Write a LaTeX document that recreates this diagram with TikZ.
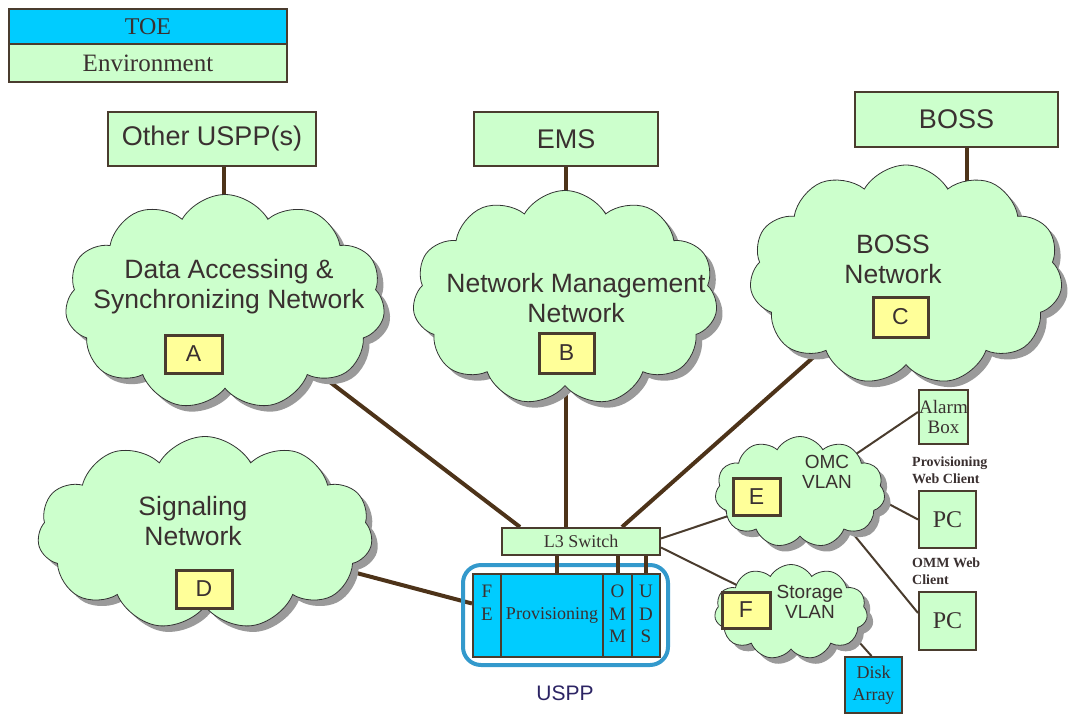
\documentclass[tikz,border=0pt]{standalone}
\usepackage{fontspec}
\setmainfont{Liberation Serif}
\newfontfamily\sansf{Liberation Sans}
\usetikzlibrary{shapes.symbols,shadows,calc}
\pgfdeclarelayer{background}
\pgfsetlayers{background,main}
\definecolor{grn}{HTML}{CCFFCC}
\definecolor{cyn}{HTML}{00CCFF}
\definecolor{yel}{HTML}{FFFF99}
\definecolor{brn}{HTML}{4D3319}
\definecolor{edg}{HTML}{4A3C2E}
\definecolor{txt}{HTML}{3A3030}
\definecolor{usppblue}{HTML}{3399CC}
\definecolor{shd}{HTML}{9A9A9A}
\tikzset{
 box/.style={draw=edg, line width=2pt, fill=grn, inner sep=0pt, text=txt, align=center},
 cbox/.style={box, fill=cyn},
 letter/.style={draw=edg, line width=3pt, fill=yel, inner sep=0pt, text=txt, font=\sansf\fontsize{23}{24}\selectfont},
 netcloud/.style={cloud, cloud puffs=11, cloud puff arc=120, cloud ignores aspect, draw=black!80, line width=0.8pt, fill=grn, inner sep=0pt, drop shadow={shadow xshift=6pt, shadow yshift=-6pt, fill=shd, opacity=1}},
 ctext/.style={text=txt, align=center, font=\sansf\fontsize{26.5}{30}\selectfont},
 stext/.style={text=txt, align=center, font=\sansf\fontsize{19}{20}\selectfont},
 trunk/.style={draw=brn, line width=4pt},
 branch/.style={draw=edg, line width=2pt},
 serif18/.style={font=\fontsize{18}{22}\selectfont},
}
\begin{document}
\begin{tikzpicture}[x=1pt,y=-1pt]
\useasboundingbox (0,0) rectangle (1074,713);
% legend
\node[cbox, minimum width=278pt, minimum height=35pt, font=\fontsize{24}{26}\selectfont] (toe) at (148,26.5) {TOE};
\node[box, minimum width=278pt, minimum height=38pt, font=\fontsize{25}{26}\selectfont] (env) at (148,63) {Environment};
% top boxes
\node[box, minimum width=208pt, minimum height=54pt, font=\sansf\fontsize{27}{28}\selectfont] (oth) at (212,139) {Other USPP(s)};
\node[box, minimum width=184pt, minimum height=54pt, font=\sansf\fontsize{27}{28}\selectfont] (ems) at (566,139) {EMS};
\node[box, minimum width=203pt, minimum height=55pt, font=\sansf\fontsize{27}{28}\selectfont] (boss) at (956.5,119.5) {BOSS};
% clouds
\node[netcloud, minimum width=320pt, minimum height=215pt] (cA) at (225,302) {};
\node[netcloud, minimum width=305pt, minimum height=215pt] (cB) at (565,298) {};
\node[netcloud, minimum width=313pt, minimum height=220pt] (cC) at (906,275) {};
\node[netcloud, minimum width=335pt, minimum height=193pt] (cD) at (205,533) {};
\node[netcloud, minimum width=170pt, minimum height=111pt] (cE) at (800,492) {};
\node[netcloud, minimum width=153pt, minimum height=95pt] (cF) at (791,612) {};
% cloud texts
\node[ctext] (tA) at (229,287) {Data Accessing \&\\Synchronizing Network};
\node[letter, minimum width=57pt, minimum height=38pt] (bA) at (193.5,354) {A};
\node[ctext] (tB) at (576,298) {Network Management\\Network};
\node[letter, minimum width=55pt, minimum height=40pt] (bB) at (566.5,353) {B};
\node[ctext] (tC) at (893,259) {BOSS\\Network};
\node[letter, minimum width=55pt, minimum height=40pt] (bC) at (900.5,317) {C};
\node[ctext] (tD) at (193,521) {Signaling\\Network};
\node[letter, minimum width=56pt, minimum height=38pt] (bD) at (204,589) {D};
\node[stext] (tE) at (827,472) {OMC\\VLAN};
\node[letter, minimum width=47pt, minimum height=37pt] (bE) at (756.5,496.5) {E};
\node[stext] (tF) at (810,602) {Storage\\VLAN};
\node[letter, minimum width=48pt, minimum height=36pt] (bF) at (746,610) {F};
% USPP
\node[draw=usppblue, line width=4pt, rounded corners=18pt, minimum width=205pt, minimum height=100pt, inner sep=0pt] (uspp) at (565.5,615) {};
\node[cbox, minimum width=28pt, minimum height=83pt] (fe) at (487,615.5) {};
\node[cbox, minimum width=102pt, minimum height=83pt, serif18] (prov) at (552,615.5) {Provisioning};
\node[cbox, minimum width=29pt, minimum height=83pt] (omm) at (617.5,615.5) {};
\node[cbox, minimum width=28pt, minimum height=83pt] (uds) at (646,615.5) {};
\node[text=txt, font=\fontsize{19}{22.5}\selectfont, align=center, anchor=north, inner sep=0pt] (feL) at (487,585) {F\\E};
\node[text=txt, font=\fontsize{19}{22.5}\selectfont, align=center, anchor=north, inner sep=0pt] (ommL) at (617.5,585) {O\\M\\M};
\node[text=txt, font=\fontsize{19}{22.5}\selectfont, align=center, anchor=north, inner sep=0pt] (udsL) at (646,585) {U\\D\\S};
\node[text=txt!75!blue, font=\sansf\fontsize{21}{24}\selectfont] (usppL) at (565,693) {USPP};
\node[box, minimum width=158pt, minimum height=27pt, serif18] (l3) at (581,541.5) {L3 Switch};
% right side devices
\node[box, minimum width=49pt, minimum height=54pt, font=\fontsize{19}{22}\selectfont] (alarm) at (943.5,417) {Alarm\\[-2pt]Box};
\node[box, minimum width=57pt, minimum height=57pt, font=\fontsize{24}{26}\selectfont] (pc1) at (947.5,519.5) {PC};
\node[box, minimum width=57pt, minimum height=58pt, font=\fontsize{24}{26}\selectfont] (pc2) at (947.5,621) {PC};
\node[cbox, minimum width=57pt, minimum height=56pt, font=\fontsize{18}{22}\selectfont] (disk) at (873.5,685) {Disk\\Array};
\node[text=txt, align=left, anchor=west, inner sep=0pt, font=\bfseries\fontsize{14}{17}\selectfont] (lp1) at (912,470) {Provisioning\\Web Client};
\node[text=txt, align=left, anchor=west, inner sep=0pt, font=\bfseries\fontsize{14}{17}\selectfont] (lp2) at (912,571) {OMM Web\\Client};
% connectors
\begin{pgfonlayer}{background}
\draw[trunk] ([xshift=12pt]oth.south) -- ([xshift=12pt]oth.south |- cA.center);
\draw[trunk] (ems.south) -- (ems.south |- cB.center);
\draw[trunk] ([xshift=10pt]boss.south) -- ([xshift=10pt]boss.south |- cC.center);
\draw[trunk] (cA.center) -- ([xshift=-61pt]l3.north);
\draw[trunk] (cB.center -| ems.south) -- ([xshift=-15pt]l3.north);
\draw[trunk] (cC.center) -- ([xshift=41pt]l3.north);
\draw[trunk] (cD.center) -- ([yshift=12pt]fe.west);
\draw[branch] ([yshift=3pt]l3.east) -- (cE.center);
\draw[branch] ([yshift=-6pt]l3.east) -- (cF.center);
\draw[branch] (cE.center) -- ([yshift=5pt]alarm.west);
\draw[branch] ($(cE.center)+(70,2)$) -- (pc1.west);
\draw[branch] ($(cE.center)+(50,38)$) -- ([yshift=8pt]pc2.west);
\draw[branch] ($(cF.center)+(44,3)$) -- ([xshift=-2pt]disk.north);
\end{pgfonlayer}
\draw[trunk] ([xshift=5pt]prov.north) -- ([xshift=5pt]prov.north |- l3.south);
\draw[trunk] (omm.north) -- (omm.north |- l3.south);
\draw[trunk] (uds.north) -- (uds.north |- l3.south);
\end{tikzpicture}
\end{document}
